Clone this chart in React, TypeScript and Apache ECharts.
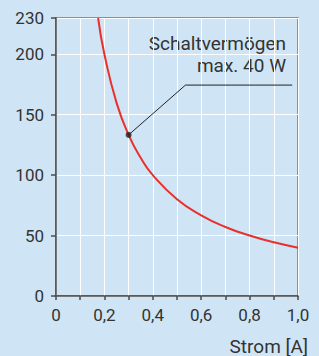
import React, { useEffect, useRef } from "react";
import * as echarts from "echarts";

const currentA = [0.174, 0.2, 0.25, 0.3, 0.35, 0.4, 0.5, 0.6, 0.7, 0.8, 0.9, 1.0];
const voltageV = [230, 200, 160, 133.3, 114.3, 100, 80, 66.7, 57.1, 50, 44.4, 40];
const yTickValues = [0, 50, 100, 150, 200, 230];
const markerPoint = [0.3, 133.3];
const leaderPoints = [[0.3, 133.3], [0.535, 174.5], [0.976, 174.5]];
const annotationLines = ["Schaltvermögen", "max. 40 W"];
const xTitle = "Strom [A]";

const FONT = "Roboto";
const TXT = "#333333";

export default function App() {
  const ref = useRef<HTMLDivElement>(null);
  useEffect(() => {
    const chart = echarts.init(ref.current!, null, { renderer: "svg" });
    chart.setOption({
      animation: false,
      backgroundColor: "#cfe5f6",
      textStyle: { fontFamily: FONT },
      grid: {
        left: 56,
        right: 21,
        top: 18,
        bottom: 60,
        show: true,
        borderColor: "#6e767e",
        borderWidth: 1.5,
        backgroundColor: "transparent",
      },
      xAxis: {
        type: "value",
        min: 0,
        max: 1,
        interval: 0.1,
        axisLine: { show: true, lineStyle: { color: "#4a4a4a", width: 1.5 } },
        axisTick: { show: true, length: 4, lineStyle: { color: "#4a4a4a", width: 1.5 } },
        splitLine: { show: true, lineStyle: { color: "#ffffff", width: 1 } },
        axisLabel: {
          margin: 10,
          fontSize: 17,
          color: TXT,
          fontFamily: FONT,
          formatter: (v: number) => {
            const t = Math.round(v * 10);
            if (t % 2 !== 0) return "";
            if (t === 0) return "0";
            return (t / 10).toFixed(1).replace(".", ",");
          },
        },
      },
      yAxis: {
        type: "value",
        min: 0,
        max: 230,
        interval: 50,
        axisLine: { show: true, lineStyle: { color: "#4a4a4a", width: 1.5 } },
        axisTick: { show: true, length: 5, customValues: yTickValues, lineStyle: { color: "#4a4a4a", width: 1.5 } },
        splitLine: { show: true, lineStyle: { color: "#ffffff", width: 1 } },
        axisLabel: {
          margin: 12,
          fontSize: 17,
          color: TXT,
          fontFamily: FONT,
          customValues: yTickValues,
        },
      },
      series: [
        {
          type: "line",
          data: currentA.map((x, i) => [x, voltageV[i]]),
          smooth: true,
          showSymbol: false,
          lineStyle: { color: "#e8302c", width: 2 },
          z: 3,
        },
        {
          type: "line",
          data: leaderPoints,
          showSymbol: false,
          lineStyle: { color: "#222222", width: 1 },
          z: 4,
        },
        {
          type: "scatter",
          data: [markerPoint],
          symbolSize: 6,
          itemStyle: { color: "#222222" },
          z: 5,
        },
      ],
      graphic: [
        {
          type: "text",
          x: 286,
          y: 43.5,
          style: {
            text: annotationLines[0],
            align: "right",
            verticalAlign: "middle",
            fontSize: 19,
            fill: TXT,
            fontFamily: FONT,
          },
        },
        {
          type: "text",
          x: 286,
          y: 65.5,
          style: {
            text: annotationLines[1],
            align: "right",
            verticalAlign: "middle",
            fontSize: 19,
            fill: TXT,
            fontFamily: FONT,
          },
        },
        {
          type: "text",
          x: 308,
          y: 346,
          style: {
            text: xTitle,
            align: "right",
            verticalAlign: "middle",
            fontSize: 19,
            fill: TXT,
            fontFamily: FONT,
          },
        },
      ],
    });
    return () => chart.dispose();
  }, []);
  return (
    <div
      ref={ref}
      style={{ position: "fixed", left: 0, top: 0, width: 319, height: 356 }}
    />
  );
}
